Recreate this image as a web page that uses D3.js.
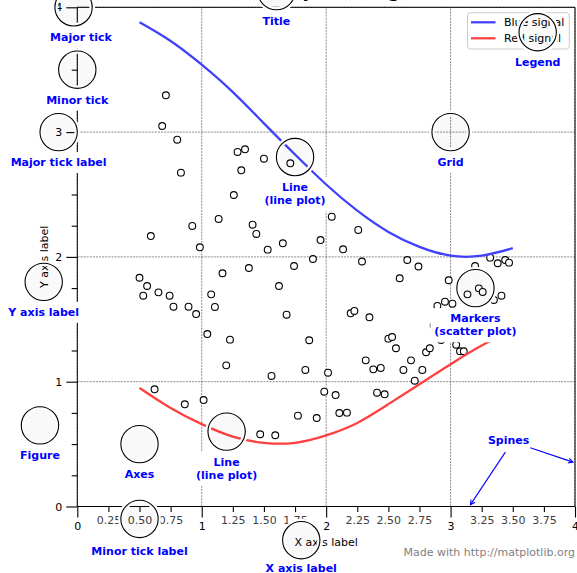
<!DOCTYPE html>
<html><head><meta charset="utf-8">
<script src="https://cdn.jsdelivr.net/npm/d3@7"></script>
<style>body{margin:0;background:#fff} svg{display:block} text{font-family:"DejaVu Sans",sans-serif}</style>
</head><body><svg id="c" width="577" height="573"></svg>
<script>
// ---------------- data ----------------
const scatterX = [0.500,0.530,0.561,0.591,0.621,0.652,0.682,0.712,0.742,0.773,
 0.803,0.833,0.864,0.894,0.924,0.955,0.985,1.015,1.045,1.076,
 1.106,1.136,1.167,1.197,1.227,1.258,1.288,1.318,1.348,1.379,
 1.409,1.439,1.470,1.500,1.530,1.561,1.591,1.621,1.652,1.682,
 1.712,1.742,1.773,1.803,1.833,1.864,1.894,1.924,1.955,1.985,
 2.015,2.045,2.076,2.106,2.136,2.167,2.197,2.227,2.258,2.288,
 2.318,2.348,2.379,2.409,2.439,2.470,2.500,2.530,2.561,2.591,
 2.621,2.652,2.682,2.712,2.742,2.773,2.803,2.833,2.864,2.894,
 2.924,2.955,2.985,3.015,3.045,3.076,3.106,3.136,3.167,3.197,
 3.227,3.258,3.288,3.318,3.348,3.379,3.409,3.439,3.470,3.500];
const scatterY = [1.833,1.689,1.767,2.167,0.939,1.716,3.049,3.295,1.689,1.601,
 2.939,2.675,0.819,1.601,2.248,1.542,2.077,0.853,1.382,1.700,
 1.599,2.304,1.869,1.131,1.337,2.496,2.841,2.694,2.862,1.911,
 2.258,2.184,0.579,2.787,2.058,1.046,0.571,1.767,2.109,1.537,
 2.750,1.927,0.728,2.500,1.094,1.332,1.983,0.709,2.135,0.920,
 1.072,2.322,0.893,0.749,2.061,0.752,1.548,1.567,2.216,1.963,
 1.171,1.516,1.099,0.912,1.110,0.899,1.345,1.358,1.268,1.829,
 1.094,1.975,1.171,1.008,1.923,1.094,1.236,1.268,1.450,1.607,
 1.334,1.641,1.813,1.625,1.296,1.244,1.244,1.700,1.470,1.927,
 1.748,1.719,1.440,1.994,1.655,1.949,1.689,1.975,1.954,1.460];
const lineX = [0.5,0.75,1.0,1.25,1.5,1.75,2.0,2.25,2.5,2.75,3.0,3.25,3.5];
const blueSignal = [3.88,3.73,3.54,3.32,3.07,2.82,2.58,2.37,2.20,2.08,2.01,2.01,2.07];
const redSignal  = [0.95,0.79,0.66,0.56,0.51,0.51,0.57,0.67,0.82,0.98,1.14,1.29,1.41];
const majorTicks = [0,1,2,3,4];
const minorTicks = [0.25,0.5,0.75,1.25,1.5,1.75,2.25,2.5,2.75,3.25,3.5,3.75];
const minorTickLabels = ["0.25","0.50","0.75","1.25","1.50","1.75","2.25","2.50","2.75","3.25","3.50","3.75"];
const legendLabels = ["Blue signal","Red signal"];
const titleText = "Anatomy of a figure";
const xAxisLabel = "X axis label";
const yAxisLabel = "Y axis label";
const credit = "Made with http://matplotlib.org";
// callouts: circle centre and label anchor, in data units
const callouts = [
  {cx:0.50, cy:-0.10, tx:0.50, ty:-0.32, lines:["Minor tick label"]},
  {cx:-0.03, cy:4.00, tx:0.03, ty:3.80, lines:["Major tick"]},
  {cx:0.00, cy:3.50, tx:0.00, ty:3.30, lines:["Minor tick"]},
  {cx:-0.15, cy:3.00, tx:-0.15, ty:2.80, lines:["Major tick label"]},
  {cx:1.80, cy:-0.27, tx:1.80, ty:-0.45, lines:["X axis label"]},
  {cx:-0.27, cy:1.80, tx:-0.27, ty:1.60, lines:["Y axis label"]},
  {cx:1.60, cy:4.13, tx:1.60, ty:3.93, lines:["Title"]},
  {cx:1.75, cy:2.80, tx:1.75, ty:2.60, lines:["Line","(line plot)"]},
  {cx:1.20, cy:0.60, tx:1.20, ty:0.40, lines:["Line","(line plot)"]},
  {cx:3.20, cy:1.75, tx:3.20, ty:1.55, lines:["Markers","(scatter plot)"]},
  {cx:3.00, cy:3.00, tx:3.00, ty:2.80, lines:["Grid"]},
  {cx:3.70, cy:3.80, tx:3.70, ty:3.60, lines:["Legend"]},
  {cx:0.50, cy:0.50, tx:0.50, ty:0.30, lines:["Axes"]},
  {cx:-0.30, cy:0.65, tx:-0.30, ty:0.45, lines:["Figure"]}
];
const circleRadius = 0.15;
const spinesText = {x:3.3, y:0.5, label:"Spines"};
const spineArrows = [{from:"text", to:[4.0,0.35]}, {from:[3.45,0.45], to:[3.15,0.0]}];

// ---------------- drawing ----------------
const svg = d3.select("#c");
const x = d3.scaleLinear().domain([0,4]).range([77.3,575]);
const y = d3.scaleLinear().domain([0,4]).range([506.5,7.3]);
const BLUE = "#4040ff", RED = "#ff4040", LBLUE = "#0000ff";

// grid (behind everything)
const grid = svg.append("g").attr("stroke","#404040").attr("stroke-width",0.6).attr("stroke-dasharray","2.1,1");
grid.selectAll("line.gx").data(majorTicks).join("line").attr("class","gx")
  .attr("x1",d=>x(d)).attr("x2",d=>x(d)).attr("y1",y(0)).attr("y2",y(4));
grid.selectAll("line.gy").data(majorTicks).join("line").attr("class","gy")
  .attr("y1",d=>y(d)).attr("y2",d=>y(d)).attr("x1",x(0)).attr("x2",x(4));

// title (mostly above the visible area, only descenders show)
svg.append("text").attr("x",x(2)).attr("y",-4).attr("text-anchor","middle")
  .attr("font-size",22.5).attr("fill","#000").text(titleText);

// scatter
svg.append("g").selectAll("circle").data(scatterX.map((d,i)=>[d,scatterY[i]])).join("circle")
  .attr("cx",d=>x(d[0])).attr("cy",d=>y(d[1])).attr("r",3.4)
  .attr("fill","#fff").attr("stroke","#000").attr("stroke-width",1.1);

const line = d3.line().x(d=>x(d[0])).y(d=>y(d[1])).curve(d3.curveNatural);
// red line
svg.append("path").datum(lineX.map((d,i)=>[d,redSignal[i]])).attr("d",line)
  .attr("fill","none").attr("stroke",RED).attr("stroke-width",2.25);

// spines
const sp = svg.append("g").attr("stroke","#000").attr("stroke-width",1);
sp.append("line").attr("x1",x(0)).attr("x2",x(4)).attr("y1",y(0)).attr("y2",y(0));
sp.append("line").attr("x1",x(0)).attr("x2",x(4)).attr("y1",y(4)).attr("y2",y(4));
sp.append("line").attr("x1",x(0)).attr("x2",x(0)).attr("y1",y(0)).attr("y2",y(4));
sp.append("line").attr("x1",x(4)).attr("x2",x(4)).attr("y1",y(0)).attr("y2",y(4));

function styleAxis(g, color){
  g.select(".domain").remove();
  g.selectAll("line").attr("stroke","#000").attr("stroke-width",1.1);
  g.selectAll("text").attr("font-size",11).attr("fill",color)
    .attr("font-family",'"DejaVu Sans", sans-serif');
  g.attr("font-size",11);
}
svg.append("g").attr("transform",`translate(0,${y(0)})`)
  .call(d3.axisBottom(x).tickValues(majorTicks).tickSize(11).tickPadding(5).tickFormat(d3.format("d")))
  .call(g=>styleAxis(g,"#000"));
svg.append("g").attr("transform",`translate(0,${y(0)})`)
  .call(d3.axisBottom(x).tickValues(minorTicks).tickSize(5.6).tickPadding(4).tickFormat((d,i)=>minorTickLabels[i]))
  .call(g=>styleAxis(g,"#404040"));
svg.append("g").attr("transform",`translate(${x(0)},0)`)
  .call(d3.axisLeft(y).tickValues(majorTicks).tickSize(11).tickPadding(4).tickFormat(d3.format("d")))
  .call(g=>styleAxis(g,"#000"));
svg.append("g").attr("transform",`translate(${x(0)},0)`)
  .call(d3.axisLeft(y).tickValues(minorTicks).tickSize(5.6).tickFormat(""))
  .call(g=>styleAxis(g,"#000"));

// axis labels
svg.append("text").attr("x",x(2)).attr("y",545.5).attr("text-anchor","middle")
  .attr("font-size",11).text(xAxisLabel);
svg.append("text").attr("transform",`translate(47.5,${y(2)}) rotate(-90)`).attr("text-anchor","middle")
  .attr("font-size",11).text(yAxisLabel);

// callout labels with white background
callouts.forEach(c=>{
  const g = svg.append("g");
  const t = g.append("text").attr("text-anchor","middle").attr("font-size",11)
    .attr("font-weight","bold").attr("fill",LBLUE);
  c.lines.forEach((s,i)=>{
    t.append("tspan").attr("x",x(c.tx)).attr("y",y(c.ty)+9+i*13.2).text(s);
  });
  const b = t.node().getBBox();
  g.insert("rect","text").attr("x",b.x-4).attr("y",b.y-4).attr("width",b.width+8).attr("height",b.height+8)
    .attr("fill","#fff");
});

// Spines annotation
const spT = svg.append("text").attr("x",x(spinesText.x)).attr("y",y(spinesText.y))
  .attr("font-size",11).attr("font-weight","bold").attr("fill",LBLUE).text(spinesText.label);
const sb = spT.node().getBBox();
function arrow(p0, p1, clipBox){
  let [x0,y0]=p0, [x1,y1]=p1;
  let dx=x1-x0, dy=y1-y0, L=Math.hypot(dx,dy); const ux=dx/L, uy=dy/L;
  let tStart = 0;
  if(clipBox){
    const cands=[];
    if(ux>0) cands.push((clipBox.x+clipBox.width-x0)/ux);
    if(ux<0) cands.push((clipBox.x-x0)/ux);
    if(uy>0) cands.push((clipBox.y+clipBox.height-y0)/uy);
    if(uy<0) cands.push((clipBox.y-y0)/uy);
    tStart = Math.min(...cands);
  }
  tStart += 2.2;
  const sx=x0+ux*tStart, sy=y0+uy*tStart;
  const ex=x1-ux*2.2, ey=y1-uy*2.2;
  const hl=4.6, hw=2.4, px=-uy, py=ux;
  svg.append("path").attr("d",`M${sx},${sy}L${ex},${ey}`).attr("stroke",LBLUE).attr("stroke-width",1.1).attr("fill","none");
  svg.append("path").attr("d",`M${ex-ux*hl+px*hw},${ey-uy*hl+py*hw}L${ex},${ey}L${ex-ux*hl-px*hw},${ey-uy*hl-py*hw}`)
    .attr("stroke",LBLUE).attr("stroke-width",1.1).attr("fill","none");
}
spineArrows.forEach(a=>{
  if(a.from==="text"){
    arrow([sb.x+sb.width/2, sb.y+sb.height/2],[x(a.to[0]),y(a.to[1])],sb);
  } else {
    arrow([x(a.from[0]),y(a.from[1])],[x(a.to[0]),y(a.to[1])],null);
  }
});

// credit
svg.append("text").attr("x",x(4)).attr("y",y(-0.4)).attr("text-anchor","end")
  .attr("font-size",11).attr("fill","#808080").text(credit);

// legend
const lg = svg.append("g");
lg.append("rect").attr("x",467.5).attr("y",12.7).attr("width",101.8).attr("height",36.3).attr("rx",3)
  .attr("fill","#fff").attr("fill-opacity",0.8).attr("stroke","#cccccc").attr("stroke-width",1);
[BLUE,RED].forEach((col,i)=>{
  const yy = 22.3 + i*16;
  lg.append("line").attr("x1",471).attr("x2",495.5).attr("y1",yy).attr("y2",yy)
    .attr("stroke",col).attr("stroke-width",2.25);
  lg.append("text").attr("x",504).attr("y",yy+4).attr("font-size",11).text(legendLabels[i]);
});

// blue line (on top)
svg.append("path").datum(lineX.map((d,i)=>[d,blueSignal[i]])).attr("d",line)
  .attr("fill","none").attr("stroke",BLUE).attr("stroke-width",2.25);

// callout circles
const rpx = x(circleRadius)-x(0);
const cg = svg.append("g");
callouts.forEach(c=>{
  cg.append("circle").attr("cx",x(c.cx)).attr("cy",y(c.cy)).attr("r",rpx)
    .attr("fill","rgba(0,0,0,0.0125)").attr("stroke","#fff").attr("stroke-width",5.6);
  cg.append("circle").attr("cx",x(c.cx)).attr("cy",y(c.cy)).attr("r",rpx)
    .attr("fill","rgba(0,0,0,0.0125)").attr("stroke","#000").attr("stroke-width",1.1);
});
</script>
</body></html>
